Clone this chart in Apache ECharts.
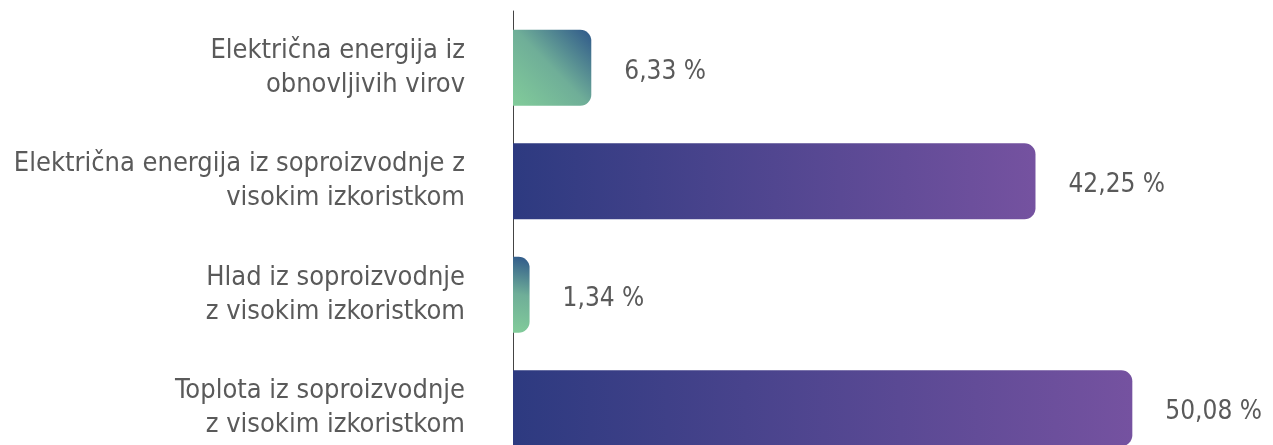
<!DOCTYPE html>
<html><head><meta charset="utf-8">
<script src="https://cdn.jsdelivr.net/npm/echarts@6/dist/echarts.min.js"></script>
<style>html,body{margin:0;padding:0;background:#fff}#c{width:1273px;height:445px}</style>
</head><body><div id="c"></div>
<script>
const categories = [
  "Električna energija iz\nobnovljivih virov",
  "Električna energija iz soproizvodnje z\nvisokim izkoristkom",
  "Hlad iz soproizvodnje\nz visokim izkoristkom",
  "Toplota iz soproizvodnje\nz visokim izkoristkom"
];
const values = [6.33, 42.25, 1.34, 50.08];
const barKinds = ["green", "purple", "green", "purple"];

const FONT = "'DejaVu Sans Condensed',sans-serif";
function grad(kind){
  if(kind === "green"){
    return new echarts.graphic.LinearGradient(0,1,1,0,[
      {offset:0,color:'#82cc9a'},{offset:0.5,color:'#6fae98'},{offset:1,color:'#2f588a'}]);
  }
  return new echarts.graphic.LinearGradient(0,0.6,1,0.4,[
    {offset:0,color:'#2d3a80'},{offset:1,color:'#7552a0'}]);
}
const chart = echarts.init(document.getElementById('c'), null, {renderer:'canvas'});
chart.setOption({
  animation:false,
  grid:{left:513, width:742, top:11, height:454, containLabel:false, outerBoundsMode:'none'},
  xAxis:{type:'value', min:0, max:60, show:false},
  yAxis:{type:'category', data:categories, inverse:true,
    axisLine:{show:true, lineStyle:{color:'#444', width:1}},
    axisTick:{show:false},
    axisLabel:{margin:48, color:'#5a5a5a', fontFamily:FONT, fontSize:27, lineHeight:34, align:'right'}
  },
  series:[{
    type:'bar', barWidth:'67%',
    data: values.map((v,i)=>({value:v, itemStyle:{color:grad(barKinds[i])}})),
    itemStyle:{borderRadius:[0,11,11,0]},
    label:{show:true, position:'right', distance:33, offset:[0,4], color:'#5a5a5a', fontFamily:FONT, fontSize:26,
      formatter:p=>p.value.toFixed(2).replace('.',',')+' %'}
  }]
});
</script></body></html>
